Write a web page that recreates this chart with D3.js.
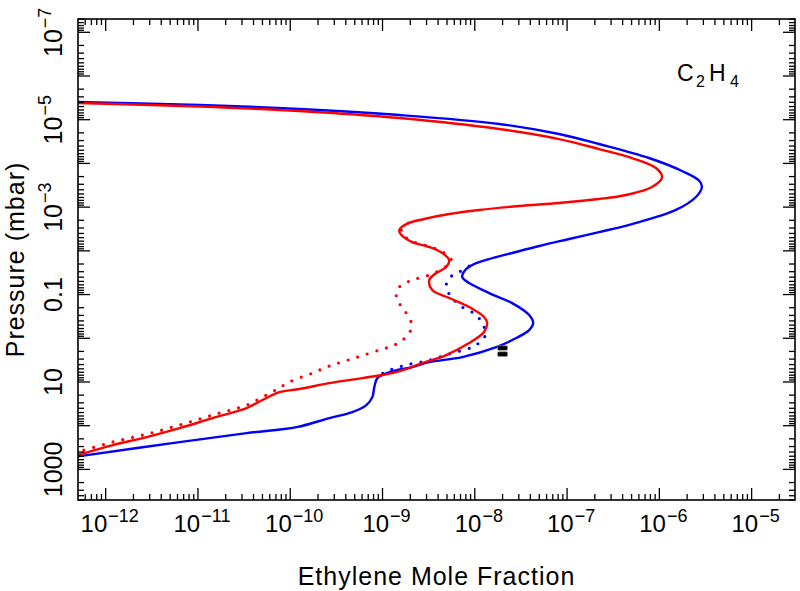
<!DOCTYPE html>
<html>
<head>
<meta charset="utf-8">
<script src="https://cdn.jsdelivr.net/npm/d3@7"></script>
<style>
  html, body { margin: 0; padding: 0; background: #fff; }
  svg { display: block; }
  text { font-family: "Liberation Sans", Arial, Helvetica, sans-serif; fill: #000; }
</style>
</head>
<body>
<div id="chart"></div>
<script>
// ---------------- data ----------------
// Blue model, solid line: mole fraction vs pressure (mbar)
const blueFrac = [3.18e-13, 4.98e-13, 1.04e-11, 1.26e-10, 1.52e-9, 1.84e-8, 8.18e-8, 2.22e-7, 7.71e-7, 1.76e-6,
  2.69e-6, 2.89e-6, 2.49e-6, 1.51e-6, 5.05e-7, 2.22e-7, 1.05e-7, 4.98e-8, 2.54e-8, 1.43e-8,
  9.86e-9, 8.07e-9, 7.31e-9, 8.69e-9, 1.43e-8, 2.54e-8, 3.88e-8, 4.29e-8, 3.88e-8, 2.81e-8,
  1.71e-8, 7.31e-9, 3.21e-9, 2.10e-9, 1.19e-9, 8.79e-10, 8.15e-10, 7.76e-10, 6.68e-10, 4.71e-10,
  2.65e-10, 1.17e-10, 3.36e-11, 6.32e-12, 5.24e-13, 3.18e-13];
const bluePres = [3.84e-6, 3.94e-6, 4.61e-6, 5.69e-6, 7.80e-6, 1.25e-5, 2.12e-5, 3.60e-5, 7.52e-5, 1.49e-4,
  2.46e-4, 3.47e-4, 5.87e-4, 1.16e-3, 2.44e-3, 3.72e-3, 5.37e-3, 7.76e-3, 1.12e-2, 1.54e-2,
  2.00e-2, 2.61e-2, 3.98e-2, 5.46e-2, 9.25e-2, 1.57e-1, 2.94e-1, 4.49e-1, 6.49e-1, 0.989,
  1.59, 2.69, 3.51, 4.56, 5.93, 8.15, 13.1, 22.2, 33.8, 48.9,
  67.0, 108, 148, 237, 497, 581];

// Red model, solid line
const redFrac = [3.18e-13, 4.98e-13, 1.04e-11, 1.26e-10, 1.52e-9, 1.84e-8, 8.18e-8, 2.22e-7, 5.05e-7, 9.18e-7,
  1.07e-6, 8.32e-7, 4.36e-7, 2.22e-7, 8.18e-8, 3.03e-8, 1.12e-8, 5.28e-9, 2.83e-9, 1.81e-9,
  1.52e-9, 1.60e-9, 2.10e-9, 3.21e-9, 4.44e-9, 5.28e-9, 4.90e-9, 3.82e-9, 3.21e-9, 3.46e-9,
  5.28e-9, 8.69e-9, 1.26e-8, 1.36e-8, 1.26e-8, 8.69e-9, 4.90e-9, 2.70e-9, 1.41e-9, 6.04e-10,
  2.65e-10, 1.26e-10, 7.64e-11, 5.00e-11, 3.36e-11, 1.44e-11, 6.32e-12, 2.78e-12, 1.19e-12, 5.24e-13,
  3.18e-13];
const redPres = [4.04e-6, 4.15e-6, 4.99e-6, 6.32e-6, 9.14e-6, 1.63e-5, 2.77e-5, 4.69e-5, 7.52e-5, 1.27e-4,
  2.05e-4, 3.47e-4, 5.28e-4, 6.53e-4, 8.05e-4, 9.44e-4, 1.16e-3, 1.44e-3, 1.87e-3, 2.44e-3,
  3.34e-3, 4.35e-3, 6.30e-3, 8.18e-3, 1.12e-2, 1.63e-2, 2.35e-2, 3.22e-2, 4.66e-2, 7.89e-2,
  1.20e-1, 1.93e-1, 3.27e-1, 4.49e-1, 7.21e-1, 1.29, 2.42, 3.70, 5.93, 8.15,
  10.6, 14.5, 17.0, 25.9, 39.5, 67.0, 114, 182, 278, 447,
  524];

// Red model variant, dotted line
const redDotFrac = [1.90e-9, 1.60e-9, 1.68e-9, 2.21e-9, 3.37e-9, 4.67e-9, 5.56e-9, 4.79e-9, 3.21e-9, 2.10e-9,
  1.52e-9, 1.41e-9, 1.72e-9, 2.05e-9, 1.95e-9, 1.41e-9, 9.23e-10, 4.95e-10, 2.65e-10, 1.74e-10,
  9.79e-11, 7.26e-11, 5.00e-11, 3.36e-11, 1.44e-11, 6.32e-12, 2.78e-12, 1.19e-12, 5.24e-13, 3.18e-13];
const redDotPres = [2.31e-3, 3.34e-3, 4.35e-3, 6.30e-3, 8.18e-3, 1.12e-2, 1.63e-2, 2.35e-2, 3.58e-2, 4.66e-2,
  6.73e-2, 1.20e-1, 2.26e-1, 4.49e-1, 7.60e-1, 1.36, 1.86, 2.84, 4.33, 6.25,
  10.0, 14.5, 22.2, 33.8, 57.1, 96.8, 156, 237, 381, 447];

// Blue model variant, dotted line
const blueDotFrac = [8.69e-9, 6.78e-9, 5.28e-9, 4.90e-9, 5.69e-9, 7.31e-9, 1.04e-8, 1.26e-8, 1.33e-8, 1.20e-8,
  9.38e-9, 5.69e-9, 3.21e-9, 1.81e-9, 1.19e-9, 8.79e-10];
const blueDotPres = [2.23e-2, 3.05e-2, 4.19e-2, 6.73e-2, 1.20e-1, 1.93e-1, 2.94e-1, 5.55e-1, 7.60e-1, 1.10,
  1.59, 2.18, 3.16, 4.10, 5.35, 7.33];

// Observation (black marker)
const obsFrac = [2.0e-8, 2.0e-8];
const obsPres = [1.67, 2.30];

// Axis tick labels
const xTickValues = [1e-12, 1e-11, 1e-10, 1e-9, 1e-8, 1e-7, 1e-6, 1e-5];
const xTickExps = ["−12", "−11", "−10", "−9", "−8", "−7", "−6", "−5"];
const yTickValues = [1e-7, 1e-5, 1e-3, 0.1, 10, 1000];
const yTickBase = ["10", "10", "10", "0.1", "10", "1000"];
const yTickExps = ["−7", "−5", "−3", "", "", ""];

const xTitle = "Ethylene Mole Fraction";
const yTitle = "Pressure (mbar)";

// ---------------- layout ----------------
const W = 800, H = 591;
const L = 78, R = 795, T = 19, B = 500;

const svg = d3.select("#chart").append("svg").attr("width", W).attr("height", H);

const x = d3.scaleLog().domain([Math.pow(10, -12.30), Math.pow(10, -4.53)]).range([L, R]);
const y = d3.scaleLog().domain([Math.pow(10, -7.304), Math.pow(10, 3.70)]).range([T, B]);

svg.append("defs").append("clipPath").attr("id", "plotclip")
  .append("rect").attr("x", L).attr("y", T).attr("width", R - L).attr("height", B - T);

const plot = svg.append("g").attr("clip-path", "url(#plotclip)");

const line = d3.line()
  .x(d => x(d[0])).y(d => y(d[1]))
  .curve(d3.curveCatmullRom.alpha(0.5));

// dotted lines first
plot.append("path").datum(d3.zip(redDotFrac, redDotPres))
  .attr("d", line).attr("fill", "none").attr("stroke", "#ff0000")
  .attr("stroke-width", 3.2).attr("stroke-linecap", "round").attr("stroke-dasharray", "0 10");
plot.append("path").datum(d3.zip(blueDotFrac, blueDotPres))
  .attr("d", line).attr("fill", "none").attr("stroke", "#0000ff")
  .attr("stroke-width", 3.2).attr("stroke-linecap", "round").attr("stroke-dasharray", "0 10");

// solid lines
plot.append("path").datum(d3.zip(blueFrac, bluePres))
  .attr("d", line).attr("fill", "none").attr("stroke", "#0000ff").attr("stroke-width", 2.4);
plot.append("path").datum(d3.zip(redFrac, redPres))
  .attr("d", line).attr("fill", "none").attr("stroke", "#ff0000").attr("stroke-width", 2.4);

// observation marker
plot.selectAll("rect.obs").data(d3.zip(obsFrac, obsPres)).enter().append("rect")
  .attr("class", "obs")
  .attr("x", d => x(d[0]) - 5).attr("y", d => y(d[1]) - 2.3)
  .attr("width", 10).attr("height", 4.6).attr("rx", 1.2)
  .attr("fill", "#000").attr("stroke", "#999").attr("stroke-width", 0.6);

// ---------------- axes frame & ticks ----------------
svg.append("rect").attr("x", L).attr("y", T).attr("width", R - L).attr("height", B - T)
  .attr("fill", "none").attr("stroke", "#000").attr("stroke-width", 1.6);

function logTicks(scale) {
  const [a, b] = scale.domain();
  const out = [];
  for (let d = Math.floor(Math.log10(a)); d <= Math.ceil(Math.log10(b)); d++) {
    for (let k = 1; k <= 9; k++) {
      const v = k * Math.pow(10, d);
      if (v >= a && v <= b) out.push({ v, major: k === 1 });
    }
  }
  return out;
}
const MAJ = 12, MIN = 6;
const tg = svg.append("g").attr("stroke", "#000").attr("stroke-width", 1.3);
logTicks(x).forEach(t => {
  const px = x(t.v), len = t.major ? MAJ : MIN;
  tg.append("line").attr("x1", px).attr("x2", px).attr("y1", B).attr("y2", B - len);
  tg.append("line").attr("x1", px).attr("x2", px).attr("y1", T).attr("y2", T + len);
});
logTicks(y).forEach(t => {
  const py = y(t.v), len = t.major ? MAJ : MIN;
  tg.append("line").attr("y1", py).attr("y2", py).attr("x1", L).attr("x2", L + len);
  tg.append("line").attr("y1", py).attr("y2", py).attr("x1", R).attr("x2", R - len);
});

// x tick labels
xTickValues.forEach((v, i) => {
  const t = svg.append("text").attr("x", x(v) + 4).attr("y", 532)
    .attr("text-anchor", "middle").style("font-size", "24px");
  t.append("tspan").text("10");
  t.append("tspan").attr("dy", -10).attr("dx", 1).style("font-size", "18px").text(xTickExps[i]);
});

// y tick labels (rotated)
yTickValues.forEach((v, i) => {
  const t = svg.append("text")
    .attr("transform", `translate(62,${y(v)}) rotate(-90)`)
    .attr("text-anchor", "middle").style("font-size", "25px");
  t.append("tspan").text(yTickBase[i]);
  if (yTickExps[i]) {
    t.append("tspan").attr("dy", -11).attr("dx", 1).style("font-size", "18px").text(yTickExps[i]);
  }
});

// axis titles
svg.append("text").attr("x", (L + R) / 2).attr("y", 585).attr("text-anchor", "middle")
  .style("font-size", "25px").style("letter-spacing", "1px").text(xTitle);
svg.append("text").attr("transform", `translate(24,${(T + B) / 2}) rotate(-90)`)
  .attr("text-anchor", "middle").style("font-size", "25px").style("letter-spacing", "1px").text(yTitle);

// species label C2H4
const sp = svg.append("g");
sp.append("text").attr("x", 677).attr("y", 81).style("font-size", "23px").text("C");
sp.append("text").attr("x", 696).attr("y", 87).style("font-size", "16px").text("2");
sp.append("text").attr("x", 709).attr("y", 81).style("font-size", "23px").text("H");
sp.append("text").attr("x", 730).attr("y", 87).style("font-size", "16px").text("4");
</script>
</body>
</html>
